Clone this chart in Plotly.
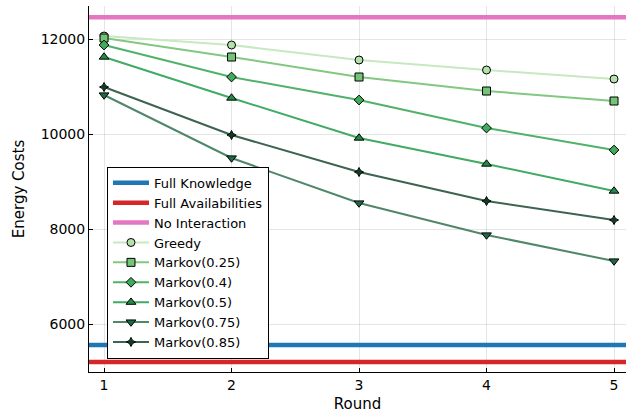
import plotly.graph_objects as go

rounds = [1, 2, 3, 4, 5]
x_range = [0.882, 5.094]

full_knowledge = 5560
full_availabilities = 5200
no_interaction = 12460

greedy = [12063, 11874, 11558, 11347, 11158]
markov_025 = [12021, 11621, 11200, 10905, 10695]
markov_04 = [11874, 11200, 10716, 10126, 9663]
markov_05 = [11621, 10758, 9916, 9368, 8800]
markov_075 = [10821, 9495, 8547, 7874, 7326]
markov_085 = [10989, 9979, 9200, 8589, 8189]

fig = go.Figure()

for name, val, col in [("Full Knowledge", full_knowledge, "#1f77b4"),
                       ("Full Availabilities", full_availabilities, "#d62728"),
                       ("No Interaction", no_interaction, "#e377c2")]:
    fig.add_trace(go.Scatter(x=x_range, y=[val, val], mode="lines", name=name,
                             line=dict(color=col, width=4.5)))

series = [
    ("Greedy", greedy, "circle", "#b5e2aa", "rgba(199,233,192,1)", 8),
    ("Markov(0.25)", markov_025, "square", "#74c476", "rgba(130,200,128,1)", 8),
    ("Markov(0.4)", markov_04, "diamond", "#41ab5d", "rgba(80,178,105,1)", 7.5),
    ("Markov(0.5)", markov_05, "triangle-up", "#238b45", "rgba(65,170,100,1)", 8.5),
    ("Markov(0.75)", markov_075, "triangle-down", "#1d6b42", "rgba(80,135,105,1)", 8.5),
    ("Markov(0.85)", markov_085, "star-diamond", "#0f3d24", "rgba(60,100,80,1)", 6.5),
]
for name, ys, sym, mcol, lcol, sz in series:
    fig.add_trace(go.Scatter(x=rounds, y=ys, mode="lines+markers", name=name,
                             line=dict(color=lcol, width=2),
                             marker=dict(symbol=sym, size=sz, color=mcol,
                                         line=dict(color="black", width=1))))

axis_common = dict(showline=True, linecolor="black", linewidth=1, mirror=False,
                   ticks="inside", ticklen=4, tickcolor="black",
                   showgrid=True, gridcolor="rgba(0,0,0,0.1)", gridwidth=1,
                   zeroline=False, automargin=False,
                   tickfont=dict(size=14, color="black"))

fig.update_layout(
    width=628, height=414,
    margin=dict(l=89, r=2, t=6, b=42),
    paper_bgcolor="white", plot_bgcolor="white",
    font=dict(family="DejaVu Sans", size=14, color="black"),
    xaxis=dict(range=x_range, tickvals=rounds, tickformat="d",
               title=dict(text="Round", font=dict(size=15), standoff=6),
               **axis_common),
    yaxis=dict(range=[4990, 12695], tickvals=[6000, 8000, 10000, 12000], tickformat="d",
               title=dict(text="Energy Costs", font=dict(size=15), standoff=12), **axis_common),
    legend=dict(x=0.0335, y=0.036, xanchor="left", yanchor="bottom",
                bgcolor="white", bordercolor="black", borderwidth=1,
                font=dict(size=13), itemwidth=36, tracegroupgap=0),
    showlegend=True,
)

fig.write_html("out.html", config={"displayModeBar": False},
               post_script="document.body.style.margin='0';document.body.style.padding='0';document.body.style.overflow='hidden';")
